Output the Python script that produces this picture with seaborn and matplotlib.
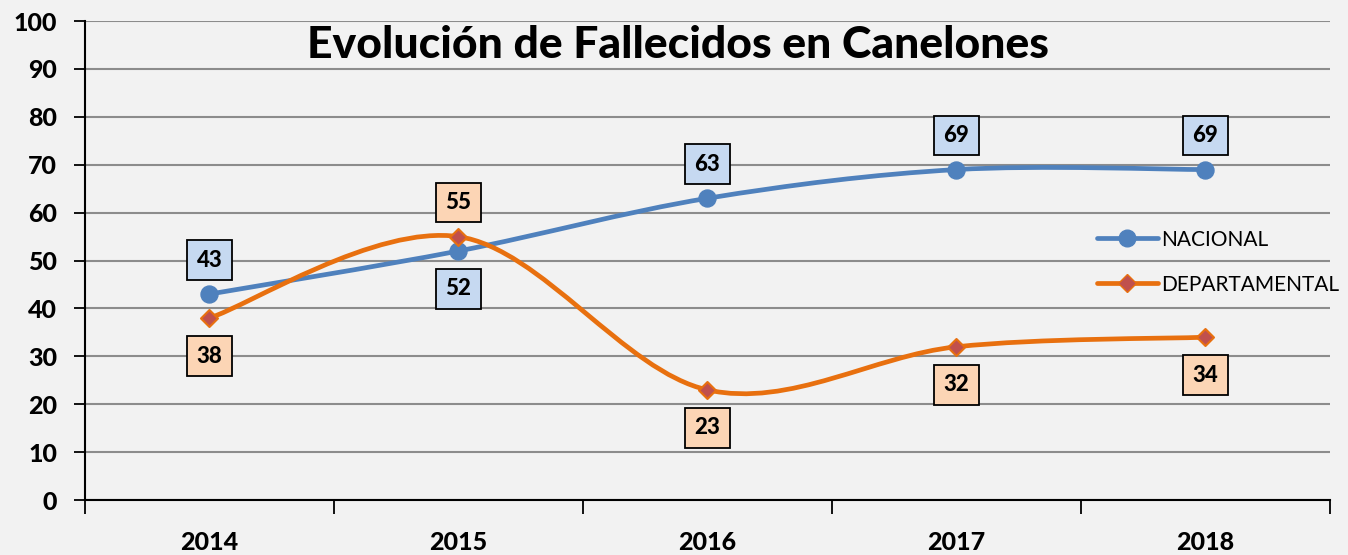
import numpy as np
import pandas as pd
import seaborn as sns
import matplotlib.pyplot as plt
from matplotlib.path import Path
from matplotlib.patches import PathPatch
from matplotlib.lines import Line2D

years = ['2014', '2015', '2016', '2017', '2018']
nacional = [43, 52, 63, 69, 69]
departamental = [38, 55, 23, 32, 34]
nac_label_pos = ['above', 'below', 'above', 'above', 'above']
dep_label_pos = ['below', 'above', 'below', 'below', 'below']

BLUE = '#4f81bd'
ORANGE = '#e8700f'
BG = '#f2f2f2'

sns.set_style('white', {'axes.facecolor': BG, 'figure.facecolor': BG,
                        'text.color': 'black', 'xtick.color': 'black',
                        'ytick.color': 'black', 'axes.labelcolor': 'black'})
plt.rcParams['font.family'] = ['Lato', 'DejaVu Sans']


def smooth_path(xs, ys):
    # bezier segments like a spreadsheet "smoothed line"
    pts = np.column_stack([xs, ys]).astype(float)
    n = len(pts)
    verts = [pts[0]]
    codes = [Path.MOVETO]
    for i in range(n - 1):
        p0 = pts[max(i - 1, 0)]
        p1 = pts[i]
        p2 = pts[i + 1]
        p3 = pts[min(i + 2, n - 1)]
        c1 = p1 + (p2 - p0) / 6
        c2 = p2 - (p3 - p1) / 6
        verts += [c1, c2, p2]
        codes += [Path.CURVE4] * 3
    return Path(verts, codes)


df = pd.DataFrame({'year': years, 'x': range(len(years)),
                   'NACIONAL': nacional, 'DEPARTAMENTAL': departamental})

fig = plt.figure(figsize=(13.48, 5.55), dpi=100)
ax = fig.add_axes([0.063, 0.099, 0.9236, 0.863])

ax.add_patch(PathPatch(smooth_path(df['x'], df['NACIONAL']), fill=False,
                       edgecolor=BLUE, lw=3.4, zorder=3, capstyle='round'))
ax.add_patch(PathPatch(smooth_path(df['x'], df['DEPARTAMENTAL']), fill=False,
                       edgecolor=ORANGE, lw=3.4, zorder=3, capstyle='round'))

sns.scatterplot(data=df, x='x', y='NACIONAL', ax=ax, marker='o', s=150,
                color=BLUE, edgecolor=BLUE, zorder=4, legend=False)
sns.scatterplot(data=df, x='x', y='DEPARTAMENTAL', ax=ax, marker='D', s=75,
                color='#c0504d', edgecolor=ORANGE, linewidth=1.5, zorder=4,
                legend=False)


def add_labels(values, where, face):
    for i, (v, w) in enumerate(zip(values, where)):
        off = 34 if w == 'above' else -38
        ax.annotate(str(v), (i, v), xytext=(0, off), textcoords='offset pixels',
                    ha='center', va='center', fontsize=16, fontweight='black',
                    color='black', zorder=5,
                    bbox=dict(boxstyle='square,pad=0.42', facecolor=face,
                              edgecolor='black', lw=1.3))


add_labels(nacional, nac_label_pos, '#c6d9f1')
add_labels(departamental, dep_label_pos, '#fcd5b5')

ax.set_xlim(-0.5, len(years) - 0.5)
ax.set_ylim(0, 100)
ax.set_yticks(range(0, 101, 10))
ax.set_xticks(range(len(years)))
ax.set_xticklabels(years)
ax.set_xticks(np.arange(-0.5, len(years), 1), minor=True)
ax.tick_params(axis='x', which='major', length=0, pad=22, labelsize=18,
               labelcolor='black')
ax.tick_params(axis='x', which='minor', length=10, width=1.3, color='black',
               direction='out', bottom=True)
ax.tick_params(axis='y', length=8, width=1.3, color='black', direction='out',
               left=True, labelsize=18, pad=12, labelcolor='black')
for lab in ax.get_xticklabels() + ax.get_yticklabels():
    lab.set_fontweight('black')

ax.yaxis.grid(True, color='#8c8c8c', lw=1.5)
ax.set_axisbelow(True)
ax.set_xlabel('')
ax.set_ylabel('')
for side in ['top', 'right']:
    ax.spines[side].set_visible(False)
for side in ['left', 'bottom']:
    ax.spines[side].set_color('black')
    ax.spines[side].set_linewidth(1.5)

ax.text(0.476, 0.95, 'Evolución de Fallecidos en Canelones', transform=ax.transAxes,
        ha='center', va='center', fontsize=32, fontweight='black', color='black')

handles = [Line2D([], [], color=BLUE, lw=3.4, marker='o', markersize=12),
           Line2D([], [], color=ORANGE, lw=3.4, marker='D', markersize=9,
                  markerfacecolor='#c0504d', markeredgecolor=ORANGE)]
leg = ax.legend(handles, ['NACIONAL', 'DEPARTAMENTAL'], loc='center left',
                bbox_to_anchor=(0.798, 0.497), frameon=False, fontsize=15,
                handlelength=2.9, handletextpad=0.15, labelspacing=1.2)
for t in leg.get_texts():
    t.set_color('black')

fig.savefig('out.png', dpi=100, facecolor=BG)
